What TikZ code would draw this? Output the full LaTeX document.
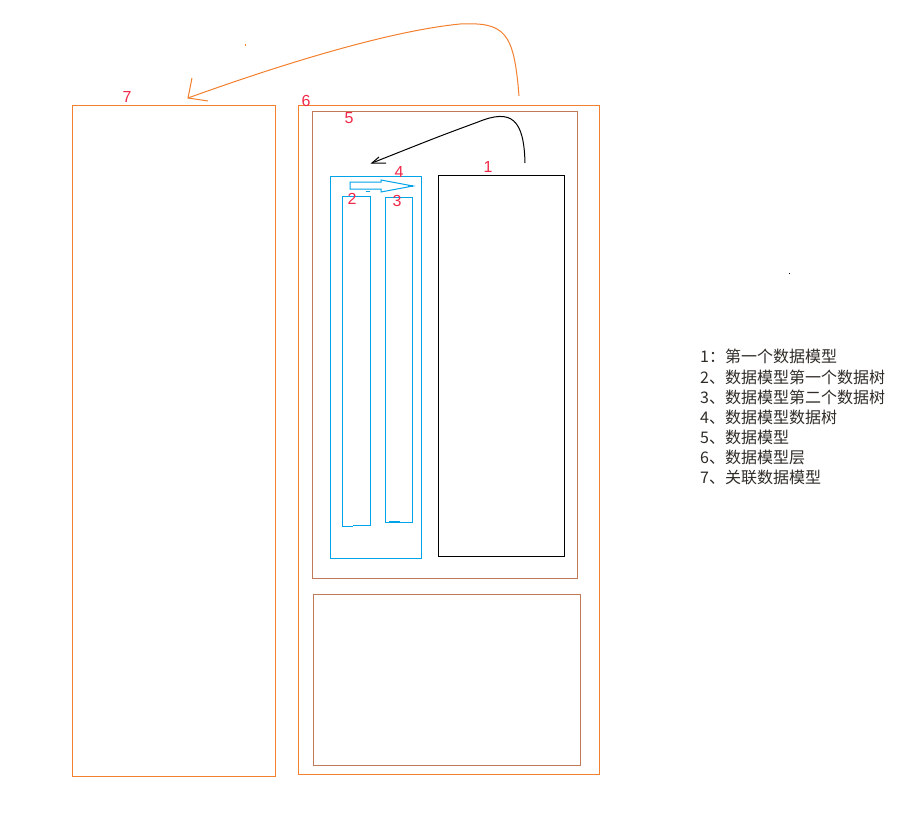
\documentclass[tikz,border=0pt]{standalone}
\usepackage{fontspec}
\setmainfont{Liberation Sans}
\newfontfamily\cjk{Noto Sans CJK SC}
\definecolor{org}{RGB}{242,128,46}
\definecolor{brn}{RGB}{192,122,88}
\definecolor{blu}{RGB}{0,162,232}
\definecolor{lbl}{RGB}{240,40,72}
\definecolor{txt}{RGB}{48,44,40}
\begin{document}
\begin{tikzpicture}[x=1pt,y=-1pt,
  obox/.style={draw=org,line width=1pt},
  bbox/.style={draw=brn,line width=1pt},
  cbox/.style={draw=blu,line width=1pt},
  kbox/.style={draw=black,line width=1pt},
  num/.style={text=lbl,font=\fontsize{16}{18}\selectfont,inner sep=0pt},
  leg/.style={text=txt,font=\cjk\fontsize{16}{18}\selectfont,inner sep=0pt,anchor=base west}]
\useasboundingbox (0,0) rectangle (924,819);
% boxes
\draw[obox] (72,105) rectangle (275,776);
\draw[obox] (298,105) rectangle (599,774);
\draw[bbox] (312,111) rectangle (577,578);
\draw[bbox] (313,594) rectangle (580,765);
\draw[kbox] (438,175) rectangle (564,556);
\draw[cbox] (330,176) rectangle (421,558);
\draw[cbox] (353,525.5) -- (370,525.5) -- (370,196) -- (342,196) -- (342,526.5) -- (353,526.5);
\draw[cbox] (385,197) rectangle (412,522);
\draw[cbox,line width=1.6pt] (389,521.5) -- (400,521.5);
% hollow arrow in box 4
\draw[cbox] (350,182) -- (381,182) -- (381,180) -- (413,186) -- (381,192) -- (381,189) -- (350,189) -- cycle;
\draw[cbox,line width=1.8pt] (408,186) -- (413,186);
\draw[cbox] (366,191.5) -- (370,191.5);
% labels
\node[num] (l7) at (127,97) {7};
\node[num] (l6) at (306,101) {6};
\node[num] (l5) at (349,118) {5};
\node[num] (l4) at (399,172) {4};
\node[num] (l1) at (488,167) {1};
\node[num] (l2) at (352,199) {2};
\node[num] (l3) at (397,201) {3};
% black curved arrow
\coordinate (ks) at (525,163);
\coordinate (kt) at (372,163);
\draw[black,line width=1pt] (ks) .. controls (524,120) and (512,108) .. (478,122) .. controls (440,136) .. (kt);
\draw[black,line width=1pt] (379,157) -- (kt) -- (386,163);
% orange curved arrow
\coordinate (os) at (519,96);
\coordinate (ot) at (188,98);
\draw[org,line width=1pt] (os) .. controls (514,32) and (505,22) .. (460,24) .. controls (380,32) and (260,72) .. (ot);
\draw[org,line width=1pt] (192,78) -- (ot) -- (208,101);
% specks
\fill[org] (244.5,44) rectangle (245.5,46);
\fill[black] (788.5,272.5) rectangle (790,274);
% legend
\node[leg] (t1) at (700,362) {1：第一个数据模型};
\node[leg] (t2) at (700,383) {2、数据模型第一个数据树};
\node[leg] (t3) at (700,403) {3、数据模型第二个数据树};
\node[leg] (t4) at (700,423) {4、数据模型数据树};
\node[leg] (t5) at (700,443) {5、数据模型};
\node[leg] (t6) at (700,463) {6、数据模型层};
\node[leg] (t7) at (700,483) {7、关联数据模型};
\end{tikzpicture}
\end{document}
